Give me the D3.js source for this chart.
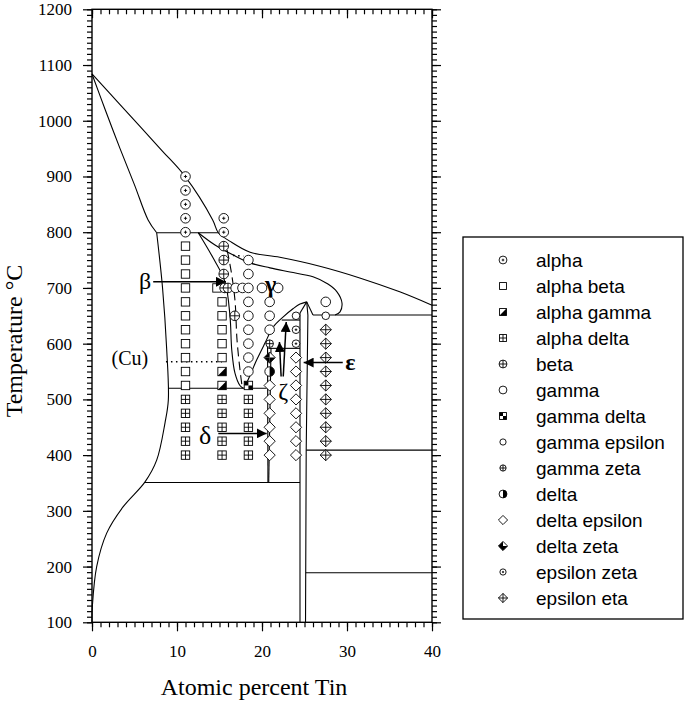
<!DOCTYPE html>
<html>
<head>
<meta charset="utf-8">
<script src="https://cdn.jsdelivr.net/npm/d3@7"></script>
<style>
  body { margin: 0; background: #fff; }
</style>
</head>
<body>
<div id="chart"></div>
<script>
// tick values
const xTicks = [0, 10, 20, 30, 40];
const yTicks = [100, 200, 300, 400, 500, 600, 700, 800, 900, 1000, 1100, 1200];

// legend entries (key, label)
const phaseKeys = ["alpha", "alphaBeta", "alphaGamma", "alphaDelta", "beta", "gamma", "gammaDelta",
  "gammaEpsilon", "gammaZeta", "delta", "deltaEpsilon", "deltaZeta", "epsilonZeta", "epsilonEta"];
const phaseLabels = ["alpha", "alpha beta", "alpha gamma", "alpha delta", "beta", "gamma", "gamma delta",
  "gamma epsilon", "gamma zeta", "delta", "delta epsilon", "delta zeta", "epsilon zeta", "epsilon eta"];

// experimental points [at.% Sn, temperature C]
const alphaPts = [[11, 900], [11, 875], [11, 850], [11, 825], [11, 800], [15.5, 825], [15.5, 800]];
const alphaBetaPts = [[11, 775], [11, 750], [11, 725], [11, 700], [11, 675], [11, 650], [11, 625], [11, 600],
  [11, 575], [11, 550], [11, 525], [14.7, 700], [15.3, 675], [15.3, 650], [15.3, 625], [15.3, 600], [15.3, 575]];
const alphaGammaPts = [[15.3, 550], [15.3, 525]];
const alphaDeltaPts = [[11, 500], [11, 475], [11, 450], [11, 425], [11, 400],
  [15.3, 500], [15.3, 475], [15.3, 450], [15.3, 425], [15.3, 400],
  [18.4, 500], [18.4, 475], [18.4, 450], [18.4, 425], [18.4, 400]];
const betaPts = [[15.5, 775], [15.5, 750], [15.5, 725], [15.6, 700], [16.0, 700], [16.8, 650]];
const gammaPts = [[18.4, 750], [18.4, 725], [16.9, 700], [17.7, 700], [18.4, 700], [20.0, 700], [21.9, 700],
  [18.4, 675], [18.4, 650], [18.4, 625], [18.4, 600], [18.4, 575], [18.4, 550],
  [20.9, 675], [20.9, 650], [20.9, 625], [27.5, 675]];
const gammaDeltaPts = [[18.4, 525]];
const gammaEpsilonPts = [[24.0, 650], [27.5, 650]];
const gammaZetaPts = [[20.9, 600]];
const deltaPts = [[20.9, 550]];
const deltaEpsilonPts = [[20.9, 525], [20.9, 500], [20.9, 475], [20.9, 450], [20.9, 425], [20.9, 400],
  [24.0, 575], [24.0, 550], [24.0, 525], [24.0, 500], [24.0, 475], [24.0, 450], [24.0, 425], [24.0, 400]];
const deltaZetaPts = [[20.9, 575]];
const epsilonZetaPts = [[24.0, 625], [24.0, 600]];
const epsilonEtaPts = [[27.5, 625], [27.5, 600], [27.5, 575], [27.5, 550], [27.5, 525], [27.5, 500],
  [27.5, 475], [27.5, 450], [27.5, 425], [27.5, 400]];

// phase boundaries [at.% Sn, temperature C]
const liquidus = [[0, 1084], [3.3, 1029], [8.2, 947], [10.9, 901], [14.2, 822], [14.86, 799],
  [16.2, 784], [18.6, 764], [22.1, 755], [26.8, 739], [31.5, 718], [36.2, 693], [40, 669]];
const alphaSolidus = [[0, 1084], [1.6, 1018], [3.3, 950], [5, 885], [6.6, 822], [7.61, 799]];
const alphaSolvus = [[7.61, 799], [8.3, 700], [8.79, 589], [8.98, 499], [8.59, 458], [7.61, 391],
  [6.24, 352], [3.65, 307], [1.73, 260], [0.55, 200], [0.05, 130], [0, 100]];
const lensLower = [[12.5, 799], [14.47, 777], [16.62, 759], [18.59, 745], [20.94, 736], [23.29, 728.5],
  [26.0, 720], [27.76, 707], [28.82, 693], [29.41, 673], [29.18, 657], [28.6, 651.4]];
const betaLeft = [[12.5, 799], [14.24, 754], [15.65, 711], [16.24, 648], [16.44, 589], [16.82, 547],
  [17.4, 525], [17.8, 520]];
const betaGammaDashed = [[15.9, 768], [16.35, 732], [16.82, 678], [17.06, 607], [17.41, 553], [17.65, 524]];
const betaGammaDotted = [[16.6, 758.5], [17.8, 757]];
const gammaRight = [[17.9, 520], [18.59, 543], [19.38, 571], [20.35, 601], [21.33, 630], [22.5, 648],
  [23.68, 663], [24.47, 671], [25.26, 675]];
const epsilonApexLeft = [[25.26, 675], [24.47, 655]];
const epsilonLeft = [[24.47, 655], [24.47, 100]];
const epsilonRight = [[25.26, 675], [25.4, 651], [25.2, 409], [25.12, 100]];
const epsilonApexRight = [[25.26, 675], [26.0, 651.4]];
const deltaLeft = [[20.65, 601], [20.7, 351]];
const deltaRight = [[21.06, 592], [20.79, 351]];
const iso799 = [[7.61, 799], [14.86, 799]];
const iso651 = [[26.0, 651.4], [40, 651.4]];
const iso642 = [[22.32, 642.4], [24.47, 642.4]];
const iso590 = [[20.74, 591.6], [24.47, 591.6]];
const iso520 = [[8.95, 520], [20.55, 520]];
const iso409 = [[25.2, 409], [40, 409]];
const iso350 = [[6.24, 351], [24.47, 351]];
const iso189 = [[25.15, 189], [40, 189]];
const cuDotted = [[8.7, 567.6], [15.3, 567.6]];

// annotation arrows [x, T]
const betaArrow = [[7.2, 711], [15.75, 711]];
const deltaArrow = [[14.86, 439], [20.55, 439]];
const epsilonArrow = [[29.5, 566], [24.9, 566]];
const zetaArrow1 = [[22.25, 541], [22.05, 603]];
const zetaArrow2 = [[22.5, 541], [22.85, 639]];

let svgWidth = 686;
let svgHeight = 701;
let margin = { top: 9.3, left: 92, bottom: 78.7, right: 254 };
let width = svgWidth - margin.left - margin.right;
let height = svgHeight - margin.top - margin.bottom;

const serif = "'Liberation Serif', 'Times New Roman', serif";

let svg = d3.select("#chart")
  .append("svg")
  .attr("width", svgWidth)
  .attr("height", svgHeight)
  .attr("font-family", serif);

svg.append("defs").append("marker")
  .attr("id", "arrow")
  .attr("viewBox", "0 0 10 10")
  .attr("refX", 10).attr("refY", 5)
  .attr("markerWidth", 10).attr("markerHeight", 10)
  .attr("markerUnits", "userSpaceOnUse")
  .attr("orient", "auto")
  .append("path")
  .attr("d", "M0,0 L10,5 L0,10 Z")
  .attr("fill", "#000");

let chartGroup = svg.append("g")
  .attr("transform", `translate(${margin.left}, ${margin.top})`);

let x = d3.scaleLinear().domain([0, 40]).range([0, width]);
let y = d3.scaleLinear().domain([100, 1200]).range([height, 0]);

// axes: minor and major ticks
let minorX = d3.range(0, 41, 1);
let minorY = d3.range(100, 1201, 10);

function styleAxis(g) {
  g.attr("font-family", serif).attr("font-size", 17);
  g.select(".domain").remove();
  g.selectAll("line").attr("stroke", "#000").attr("stroke-width", 1.2);
  g.selectAll("text").attr("fill", "#000");
}

chartGroup.append("g").attr("transform", `translate(0, ${height})`)
  .call(d3.axisBottom(x).tickValues(minorX).tickSize(5).tickFormat(""))
  .call(styleAxis);
chartGroup.append("g").attr("transform", `translate(0, ${height})`)
  .call(d3.axisBottom(x).tickValues(xTicks).tickSize(9).tickSizeOuter(0).tickPadding(14).tickFormat(d3.format("d")))
  .call(styleAxis);

chartGroup.append("g")
  .call(d3.axisBottom(x).tickValues(minorX).tickSize(5).tickFormat(""))
  .call(styleAxis);
chartGroup.append("g")
  .call(d3.axisBottom(x).tickValues(xTicks).tickSize(9).tickFormat(""))
  .call(styleAxis);

chartGroup.append("g")
  .call(d3.axisLeft(y).tickValues(minorY).tickSize(5).tickFormat(""))
  .call(styleAxis);
chartGroup.append("g")
  .call(d3.axisLeft(y).tickValues(yTicks).tickSize(9).tickSizeOuter(0).tickPadding(11).tickFormat(d3.format("d")))
  .call(styleAxis);

chartGroup.append("g").attr("transform", `translate(${width}, 0)`)
  .call(d3.axisRight(y).tickValues(minorY).tickSize(5).tickFormat(""))
  .call(styleAxis);
chartGroup.append("g").attr("transform", `translate(${width}, 0)`)
  .call(d3.axisRight(y).tickValues(yTicks).tickSize(9).tickFormat(""))
  .call(styleAxis);

chartGroup.append("rect")
  .attr("width", width).attr("height", height)
  .attr("fill", "none").attr("stroke", "#000").attr("stroke-width", 1.4);

// axis titles
svg.append("text")
  .attr("x", margin.left + width / 2 - 8).attr("y", 695)
  .attr("text-anchor", "middle").attr("font-size", 24)
  .text("Atomic percent Tin");
svg.append("text")
  .attr("transform", `translate(22, ${341}) rotate(-90)`)
  .attr("text-anchor", "middle").attr("font-size", 24)
  .text("Temperature °C");

// phase boundaries
let curved = d3.line().x(d => x(d[0])).y(d => y(d[1])).curve(d3.curveCatmullRom.alpha(0.5));
let straight = d3.line().x(d => x(d[0])).y(d => y(d[1]));

let lineGroup = chartGroup.append("g").attr("fill", "none").attr("stroke", "#000").attr("stroke-width", 1.1);

[liquidus, alphaSolidus, alphaSolvus, lensLower, betaLeft, gammaRight].forEach(pts => {
  lineGroup.append("path").attr("d", curved(pts));
});
[epsilonApexLeft, epsilonLeft, epsilonRight, epsilonApexRight, deltaLeft, deltaRight,
  iso799, iso651, iso642, iso590, iso520, iso409, iso350, iso189].forEach(pts => {
  lineGroup.append("path").attr("d", straight(pts));
});
lineGroup.append("path").attr("d", curved(betaGammaDashed)).attr("stroke-dasharray", "9,5");
lineGroup.append("path").attr("d", straight(betaGammaDotted)).attr("stroke-dasharray", "1.5,3.5").attr("stroke-width", 1.6);
lineGroup.append("path").attr("d", straight(cuDotted)).attr("stroke-dasharray", "1.5,3.5").attr("stroke-width", 1.6);

// symbols
function drawSymbol(g, key, s) {
  let sw = 0.9;
  let h = 4.2 * s;
  let d = 5.6 * s;
  let r = 4.8 * s;
  let rs = 3.8 * s;
  let sq = () => g.append("rect").attr("x", -h).attr("y", -h).attr("width", 2 * h).attr("height", 2 * h)
    .attr("fill", "#fff").attr("stroke", "#000").attr("stroke-width", sw);
  let circ = rr => g.append("circle").attr("r", rr).attr("fill", "#fff").attr("stroke", "#000").attr("stroke-width", sw);
  let diam = () => g.append("path").attr("d", `M0,${-d}L${d},0L0,${d}L${-d},0Z`)
    .attr("fill", "#fff").attr("stroke", "#000").attr("stroke-width", sw);
  let cross = (a) => g.append("path").attr("d", `M${-a},0H${a}M0,${-a}V${a}`)
    .attr("stroke", "#000").attr("stroke-width", sw).attr("fill", "none");
  let fill = p => g.append("path").attr("d", p).attr("fill", "#000").attr("stroke", "none");
  if (key === "alpha") { circ(r); cross(1.6 * s); }
  else if (key === "alphaBeta") { sq(); }
  else if (key === "alphaGamma") { sq(); fill(`M${h},${-h}L${h},${h}L${-h},${h}Z`); }
  else if (key === "alphaDelta") { sq(); cross(h); }
  else if (key === "beta") { circ(r); cross(r); }
  else if (key === "gamma") { circ(r); }
  else if (key === "gammaDelta") { sq(); fill(`M${-h},${-h}H0V0H${-h}Z`); fill(`M0,0H${h}V${h}H0Z`); }
  else if (key === "gammaEpsilon") { circ(rs); }
  else if (key === "gammaZeta") { circ(rs); cross(rs); }
  else if (key === "delta") { circ(r); fill(`M0,${-r}A${r},${r} 0 0 1 0,${r}Z`); }
  else if (key === "deltaEpsilon") { diam(); }
  else if (key === "deltaZeta") { diam(); fill(`M0,${-d}L0,0L${-d},0Z`); fill(`M${-d},0L0,0L0,${d}Z`); fill(`M0,0L${d},0L0,${d}Z`); }
  else if (key === "epsilonZeta") { circ(rs); cross(1.3 * s); }
  else if (key === "epsilonEta") { diam(); cross(d); }
}

let pointSets = {
  alpha: alphaPts, alphaBeta: alphaBetaPts, alphaGamma: alphaGammaPts, alphaDelta: alphaDeltaPts,
  beta: betaPts, gamma: gammaPts, gammaDelta: gammaDeltaPts, gammaEpsilon: gammaEpsilonPts,
  gammaZeta: gammaZetaPts, delta: deltaPts, deltaEpsilon: deltaEpsilonPts, deltaZeta: deltaZetaPts,
  epsilonZeta: epsilonZetaPts, epsilonEta: epsilonEtaPts
};

let pointGroup = chartGroup.append("g");
phaseKeys.forEach(key => {
  pointGroup.selectAll(null)
    .data(pointSets[key])
    .enter()
    .append("g")
    .attr("transform", d => `translate(${x(d[0])}, ${y(d[1])})`)
    .each(function () { drawSymbol(d3.select(this), key, 1); });
});

// annotations
let annot = chartGroup.append("g");
[betaArrow, deltaArrow, epsilonArrow, zetaArrow1, zetaArrow2].forEach(pts => {
  annot.append("path").attr("d", straight(pts))
    .attr("stroke", "#000").attr("stroke-width", 1.5).attr("fill", "none")
    .attr("marker-end", "url(#arrow)");
});
function label(txt, px, t, size, bold) {
  annot.append("text").attr("x", x(px)).attr("y", y(t))
    .attr("text-anchor", "middle").attr("dy", "0.35em")
    .attr("font-size", size).attr("font-weight", bold ? "bold" : "normal")
    .text(txt);
}
label("β", 6.25, 713, 24, false);
label("γ", 21.0, 707, 24, true);
label("δ", 13.3, 436, 26, false);
label("ε", 30.4, 567, 24, true);
label("ζ", 22.5, 516, 24, false);
label("(Cu)", 4.45, 574, 20, false);

// legend
let legend = svg.append("g");
legend.append("rect")
  .attr("x", 463).attr("y", 237).attr("width", 220).attr("height", 382)
  .attr("fill", "#fff").attr("stroke", "#000").attr("stroke-width", 1.3);
phaseKeys.forEach((key, i) => {
  let row = legend.append("g").attr("transform", `translate(503, ${260 + i * 26})`);
  drawSymbol(row, key, 0.82);
  row.append("text").attr("x", 33).attr("dy", "0.35em")
    .attr("font-size", 19)
    .attr("font-family", "'Liberation Sans', Arial, sans-serif")
    .text(phaseLabels[i]);
});
</script>
</body>
</html>
